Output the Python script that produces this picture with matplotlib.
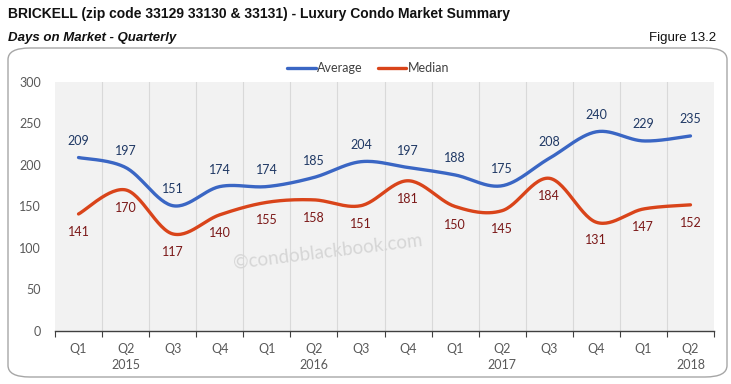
import numpy as np
import matplotlib
matplotlib.use("Agg")
import matplotlib.pyplot as plt
from matplotlib.patches import FancyBboxPatch
from matplotlib import font_manager

quarters = ["Q1", "Q2", "Q3", "Q4", "Q1", "Q2", "Q3", "Q4", "Q1", "Q2", "Q3", "Q4", "Q1", "Q2"]
years = ["2015", "2016", "2017", "2018"]
year_pos = [1, 5, 9, 13]
average = [209, 197, 151, 174, 174, 185, 204, 197, 188, 175, 208, 240, 229, 235]
median = [141, 170, 117, 140, 155, 158, 151, 181, 150, 145, 184, 131, 147, 152]

avail = {f.name for f in font_manager.fontManager.ttflist}
title_font = "Liberation Sans Narrow" if "Liberation Sans Narrow" in avail else "Liberation Sans"
body_font = "Lato" if "Lato" in avail else "DejaVu Sans"


def smooth(y, n=30):
    y = np.asarray(y, float)
    x = np.arange(len(y), dtype=float)
    xs, ys = [], []
    for i in range(len(y) - 1):
        p0 = np.array([x[max(i - 1, 0)], y[max(i - 1, 0)]])
        p1 = np.array([x[i], y[i]])
        p2 = np.array([x[i + 1], y[i + 1]])
        p3 = np.array([x[min(i + 2, len(y) - 1)], y[min(i + 2, len(y) - 1)]])
        c1 = p1 + (p2 - p0) / 6
        c2 = p2 - (p3 - p1) / 6
        t = np.linspace(0, 1, n)[:, None]
        pts = (1 - t) ** 3 * p1 + 3 * (1 - t) ** 2 * t * c1 + 3 * (1 - t) * t ** 2 * c2 + t ** 3 * p2
        xs.append(pts[:, 0]); ys.append(pts[:, 1])
    return np.concatenate(xs), np.concatenate(ys)


fig = plt.figure(figsize=(7.31, 3.84), dpi=100)
W, H = 731, 384

box = FancyBboxPatch((8 / W, 7 / H), 719 / W, 329 / H, boxstyle="round,pad=0,rounding_size=0.03",
                     transform=fig.transFigure, facecolor="none", edgecolor="#a6a6a6", linewidth=1.0,
                     zorder=-1)
fig.patches.append(box)

ax = fig.add_axes([55 / W, 1 - 331 / H, (714 - 55) / W, (331 - 82) / H])
ax.set_facecolor("#f2f2f2")
n = len(quarters)
ax.set_xlim(-0.5, n - 0.5)
ax.set_ylim(0, 300)
for b in np.arange(0.5, n - 0.5, 1):
    ax.axvline(b, color="#d9d9d9", linewidth=0.8, zorder=0)

blue = "#3A66C4"
red = "#D9441A"
xa, ya = smooth(average)
xm, ym = smooth(median)
ax.plot(xa, ya, color=blue, linewidth=2.4, solid_capstyle="round", label="Average", zorder=3)
ax.plot(xm, ym, color=red, linewidth=2.4, solid_capstyle="round", label="Median", zorder=3)

for i, v in enumerate(average):
    ax.annotate(str(v), (i, v), xytext=(0, 12), textcoords="offset points", ha="center", va="center",
                fontsize=9, color="#1F3864", family=body_font, zorder=4)
for i, v in enumerate(median):
    ax.annotate(str(v), (i, v), xytext=(0, -13), textcoords="offset points", ha="center", va="center",
                fontsize=9, color="#7B1818", family=body_font, zorder=4)

ax.text(5.3, 96, "\u00a9condoblackbook.com", fontsize=13.5, color="#d6d6d6",
        rotation=7, ha="center", va="center", family=body_font, zorder=2)

for s in ["top", "right", "left"]:
    ax.spines[s].set_visible(False)
ax.spines["bottom"].set_color("#404040")
ax.spines["bottom"].set_linewidth(1.0)
ax.set_yticks([0, 50, 100, 150, 200, 250, 300])
ax.tick_params(axis="y", length=0, labelsize=9, labelcolor="#595959", pad=10)
ax.set_xticks(np.arange(-0.5, n, 1))
ax.set_xticklabels([])
ax.tick_params(axis="x", length=4, color="#404040", direction="out")
for lab in ax.get_yticklabels():
    lab.set_family(body_font)

for i, q in enumerate(quarters):
    ax.text(i, -22, q, ha="center", va="center", fontsize=9, color="#595959", family=body_font,
            clip_on=False)
for p, y in zip(year_pos, years):
    ax.text(p, -41, y, ha="center", va="center", fontsize=9, color="#595959", family=body_font,
            clip_on=False)

leg = ax.legend(loc="lower center", bbox_to_anchor=(0.475, 1.0), ncol=2, frameon=False,
                handlelength=2.3, handletextpad=0.1, columnspacing=1.2, borderaxespad=0.2,
                prop={"family": body_font, "size": 9})
for t in leg.get_texts():
    t.set_color("#404040")

fig.text(8 / W, 1 - 14 / H, "BRICKELL (zip code 33129 33130 & 33131) - Luxury Condo Market Summary",
         fontsize=10, fontweight="bold", family=title_font, ha="left", va="center", color="#111111")
fig.text(8 / W, 1 - 38 / H, "Days on Market - Quarterly", fontsize=9.5, fontweight="bold",
         fontstyle="italic", family=title_font, ha="left", va="center", color="#111111")
fig.text(716 / W, 1 - 38 / H, "Figure 13.2", fontsize=9.5, family=title_font, ha="right", va="center",
         color="#111111")

fig.savefig("out.png", dpi=100, facecolor="white")
